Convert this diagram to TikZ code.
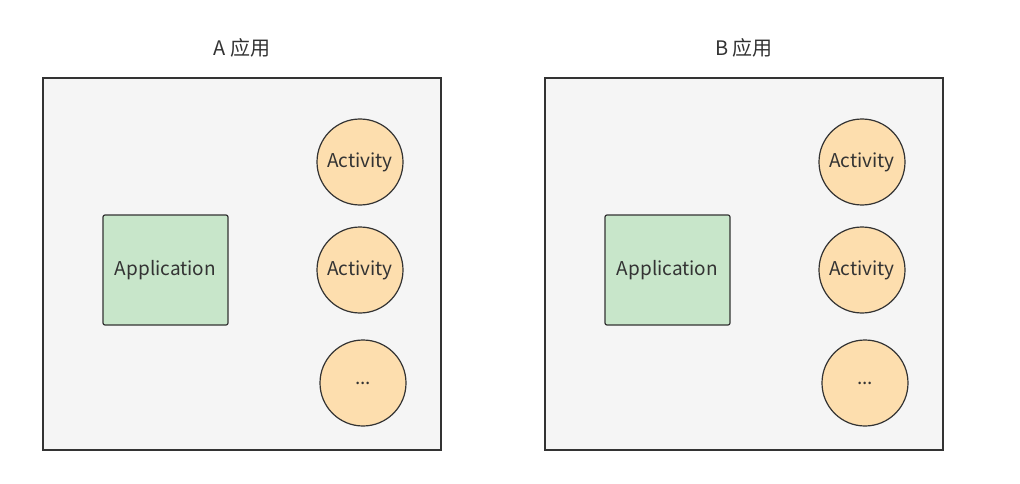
\documentclass[tikz,border=0pt]{standalone}
\usepackage{fontspec}
\setmainfont{Noto Sans CJK SC}
\definecolor{appgray}{RGB}{245,245,245}
\definecolor{appgreen}{RGB}{200,230,202}
\definecolor{actorange}{RGB}{253,222,174}
\definecolor{inkgray}{RGB}{51,51,51}
\usetikzlibrary{positioning}

\begin{document}
\begin{tikzpicture}[
    x=1pt, y=-1pt,
    title/.style={font=\fontsize{20}{24}\selectfont, text=inkgray},
    appframe/.style={draw=inkgray, line width=1.2pt, fill=appgray, minimum width=398pt, minimum height=372pt, inner sep=0pt},
    appbox/.style={draw=inkgray, line width=1.2pt, fill=appgreen, rounded corners=2pt, minimum width=125pt, minimum height=110pt, font=\fontsize{19}{22}\selectfont, text=inkgray},
    activity/.style={circle, draw=inkgray, line width=1.2pt, fill=actorange, minimum size=86pt, inner sep=0pt, font=\fontsize{19}{22}\selectfont, text=inkgray},
]

\useasboundingbox[fill=white] (0,0) rectangle (1020,484);

% Two apps, A on the left and B on the right
\foreach \name/\dx in {A/0, B/502} {
    \node[title] (title\name) at (242+\dx, 48) {\name\ 应用};
    \node[appframe] (frame\name) at (242+\dx, 264) {};
    \node[appbox] (app\name) at (165.5+\dx, 270) {\raisebox{-2pt}{Application}};
    \node[activity] (actone\name) at (360+\dx, 162) {\raisebox{-2pt}{Activity}};
    \node[activity] (acttwo\name) at (360+\dx, 270) {\raisebox{-2pt}{Activity}};
    \node[activity] (actmore\name) at (363+\dx, 383) {\raisebox{-2pt}{...}};
}

\end{tikzpicture}
\end{document}
